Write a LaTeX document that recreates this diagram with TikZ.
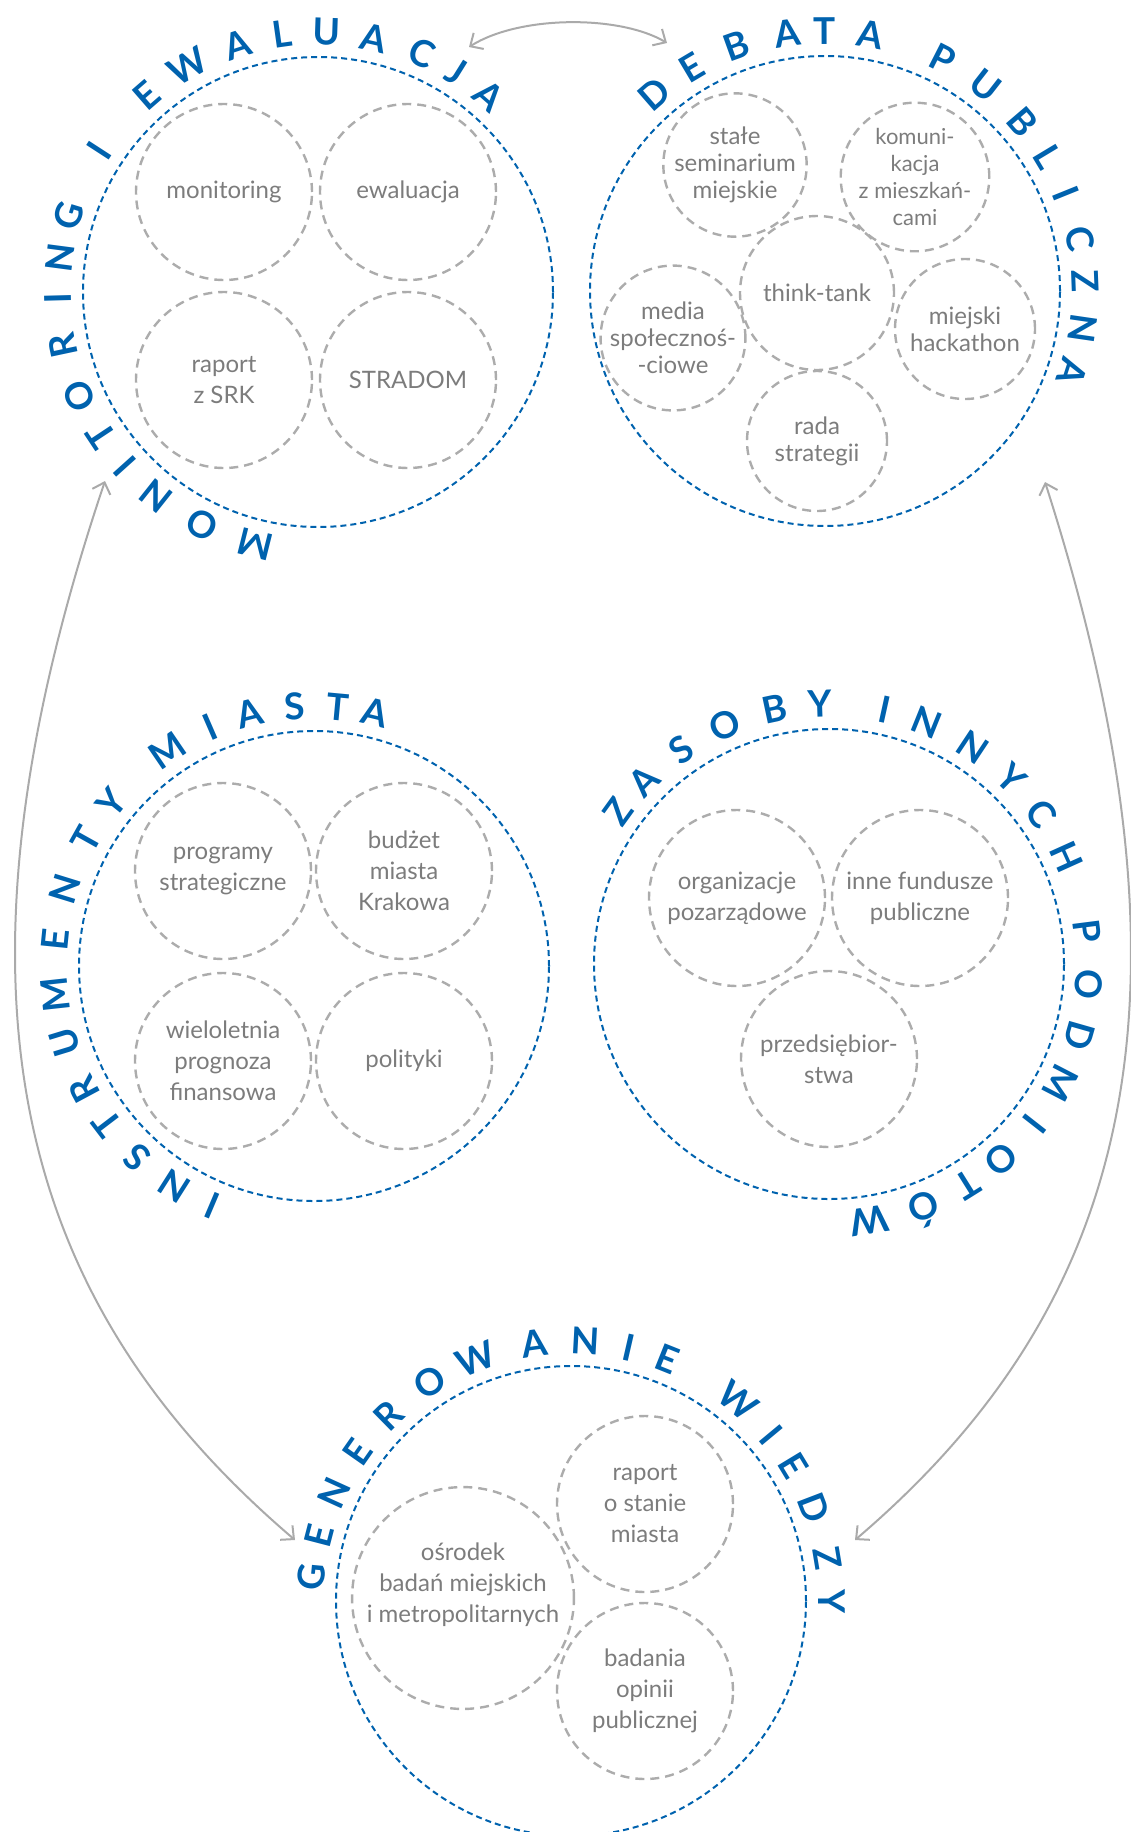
\documentclass[tikz,border=0pt]{standalone}
\usepackage{fontspec}
\setmainfont{Lato}
\usetikzlibrary{arrows.meta,calc}
\definecolor{krkBlue}{RGB}{0,98,174}
\definecolor{ringGray}{RGB}{172,172,172}
\definecolor{txtGray}{RGB}{124,124,124}
\definecolor{linkGray}{RGB}{170,170,170}

\begin{document}
\begin{tikzpicture}[
  x=1pt, y=1pt,
  ring/.style    ={circle, draw=krkBlue, line width=2pt, dash pattern=on 6pt off 4pt,
                   minimum size=470pt, inner sep=0pt},
  topic/.style   ={circle, draw=ringGray, line width=2.4pt, dash pattern=on 9pt off 6pt,
                   minimum size=176pt, inner sep=0pt, align=center, text=txtGray,
                   font=\fontsize{24}{31}\selectfont},
  subtopic/.style={topic, minimum size=140pt, font=\fontsize{24}{27}\selectfont},
  ttl/.style     ={text=krkBlue, font=\fontsize{37}{37}\selectfont\bfseries,
                   inner sep=0pt, anchor=base},
  link/.style    ={draw=linkGray, line width=2pt,
                   {Straight Barb[length=10pt,width=19pt]}-{Straight Barb[length=10pt,width=19pt]}},
]
\useasboundingbox (0,0) rectangle (1131,-1832);

% ============ MONITORING I EWALUACJA ============
\node[ring] (mon) at (318,-292) {};
\node[topic] (monit) at (224,-192) {monitoring};
\node[topic] (ewal)  at (408,-192) {ewaluacja};
\node[topic] (srk)   at (224,-380) {raport\\z SRK};
\node[topic] (strad) at (408,-380) {STRADOM};
\foreach \ch/\ang in {M/256,O/243.5,N/231.5,I/222,T/213.5,O/203.5,R/192,I/181.5,N/172.5,G/163,
                      I/147,E/131,W/120,A/108,L/98,U/88,A/77.5,C/66.5,J/58,A/49}
  \node[ttl, rotate=\ang-90] at ($(mon)+(\ang:247)$) {\ch};

% ============ DEBATA PUBLICZNA ============
\node[ring] (deb) at (825,-291) {};
\node[subtopic] (semin) at (735,-165) {stałe\\seminarium\\miejskie};
\node[subtopic, font=\fontsize{22}{27}\selectfont] (komun) at (915,-177) {komuni-\\kacja\\z mieszkań-\\cami};
\node[subtopic, minimum size=154pt] (think) at (817,-293) {think-tank};
\node[subtopic] (media) at (673,-338) {media\\społecznoś-\\-ciowe};
\node[subtopic] (hack)  at (965,-329) {miejski\\hackathon};
\node[subtopic] (rada)  at (817,-441) {rada\\strategii};
\foreach \ch/\ang in {D/131,E/120.7,B/109.8,A/98.4,T/90.2,A/80,
                      P/63,U/52,B/40.6,L/31,I/22,C/11.6,Z/2.2,N/-8.3,A/-18}
  \node[ttl, rotate=\ang-90] at ($(deb)+(\ang:247)$) {\ch};

% ============ INSTRUMENTY MIASTA ============
\node[ring] (ins) at (314,-966) {};
\node[topic] (progr) at (223,-871)  {programy\\strategiczne};
\node[topic] (budz)  at (404,-871)  {budżet\\miasta\\Krakowa};
\node[topic] (wpf)   at (223,-1061) {wieloletnia\\prognoza\\finansowa};
\node[topic] (polit) at (404,-1061) {polityki};
\foreach \ch/\ang in {I/247,N/237.6,S/227.3,T/217.3,R/208.2,U/197,M/186.2,E/174.2,N/162.8,T/150.8,Y/141.2,
                      M/124.3,I/113.5,A/104.3,S/94.3,T/84.7,A/76.4}
  \node[ttl, rotate=\ang-90] at ($(ins)+(\ang:247)$) {\ch};

% ============ ZASOBY INNYCH PODMIOTÓW ============
\node[ring] (zas) at (829,-964) {};
\node[topic] (ngo)   at (737,-898)  {organizacje\\pozarządowe};
\node[topic] (fund)  at (920,-898)  {inne fundusze\\publiczne};
\node[topic] (firmy) at (829,-1059) {przedsiębior-\\stwa};
\foreach \ch/\ang in {Z/144.2,A/135.2,S/124.6,O/113.7,B/102,Y/92,
                      I/77.6,N/68,N/56.4,Y/45.5,C/35.3,H/24.3,
                      P/7.3,O/-4.4,D/-16,M/-27.3,I/-38,O/-48.7,T/-58,Ó/-68.7,W/-81}
  \node[ttl, rotate=\ang-90] at ($(zas)+(\ang:247)$) {\ch};

% ============ GENEROWANIE WIEDZY ============
\node[ring] (gen) at (571,-1601) {};
\node[topic, minimum size=218pt, text depth=31pt] (osrod) at (463,-1598) {ośrodek\\badań miejskich\\i metropolitarnych};
\node[topic] (rapst) at (645,-1504) {raport\\o stanie\\miasta};
\node[topic] (opin)  at (645,-1691) {badania\\opinii\\publicznej};
\foreach \ch/\ang in {G/174.7,E/165.4,N/155.6,E/145,R/134.5,O/122.8,W/111.4,A/98,N/86.9,I/77.1,E/68.2,
                      W/50.2,I/39.7,E/31.2,D/20.9,Z/9.5,Y/0}
  \node[ttl, rotate=\ang-90] at ($(gen)+(\ang:247)$) {\ch};

% ============ LINKS ============
\coordinate (monR) at (469,-47);
\coordinate (debL) at (667,-43);
\coordinate (monB) at (105,-481);
\coordinate (genL) at (295,-1540);
\coordinate (debB) at (1045,-482);
\coordinate (genR) at (855,-1540);

\draw[link] (monR) .. controls (520,-15) and (620,-15) .. (debL);
\draw[link] (monB) .. controls (-74,-1013) and (28,-1312) .. (genL);
\draw[link] (debB) .. controls (1215,-1013) and (1122,-1312) .. (genR);

\end{tikzpicture}
\end{document}
